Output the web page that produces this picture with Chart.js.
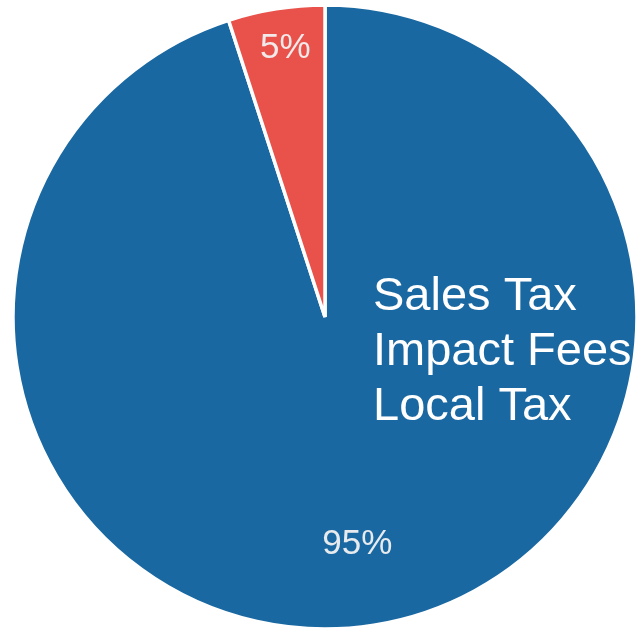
<!DOCTYPE html>
<html>
<head>
<meta charset="utf-8">
<script src="https://cdn.jsdelivr.net/npm/chart.js@4/dist/chart.umd.min.js"></script>
<style>
  html, body { margin: 0; padding: 0; background: #ffffff; }
  #wrap { width: 637px; height: 628px; }
</style>
</head>
<body>
<div id="wrap"><canvas id="chart" width="637" height="628"></canvas></div>
<script>
// Revenue sources and their shares (percent)
const categories = ['Sales Tax', 'Impact Fees', 'Local Tax'];
const shares = [95, 5, 0];
const sliceColors = ['#1a68a1', '#e9514b', '#9aa5ad'];

// Percent labels drawn inside each slice
const sliceLabels = {
  id: 'sliceLabels',
  afterDatasetsDraw(chart, args, opts) {
    const ctx = chart.ctx;
    const meta = chart.getDatasetMeta(0);
    const data = chart.data.datasets[0].data;
    ctx.save();
    ctx.font = opts.font;
    ctx.fillStyle = opts.color;
    ctx.textAlign = 'center';
    ctx.textBaseline = 'middle';
    meta.data.forEach((arc, i) => {
      if (!data[i]) return;
      const p = arc.getProps(['x', 'y', 'startAngle', 'endAngle', 'outerRadius'], true);
      const mid = (p.startAngle + p.endAngle) / 2 + (opts.turn[i] || 0);
      const r = p.outerRadius * (opts.ratios[i] || 0.75);
      ctx.fillText(data[i] + '%', p.x + Math.cos(mid) * r, p.y + Math.sin(mid) * r);
    });
    ctx.restore();
  }
};

// Category names stacked over the pie
const nameList = {
  id: 'nameList',
  afterDraw(chart, args, opts) {
    const ctx = chart.ctx;
    const arc = chart.getDatasetMeta(0).data[0];
    const cx = arc.x, cy = arc.y;
    ctx.save();
    ctx.font = opts.font;
    ctx.fillStyle = opts.color;
    ctx.textAlign = 'left';
    ctx.textBaseline = 'alphabetic';
    chart.data.labels.forEach((name, i) => {
      ctx.fillText(name, cx + opts.dx, cy + opts.dy + i * opts.lineHeight);
    });
    ctx.restore();
  }
};

new Chart(document.getElementById('chart'), {
  type: 'pie',
  data: {
    labels: categories,
    datasets: [{
      data: shares,
      backgroundColor: sliceColors,
      borderColor: '#ffffff',
      borderWidth: 3.5,
      radius: 312
    }]
  },
  options: {
    responsive: false,
    animation: false,
    layout: { padding: { left: 13, right: 0, top: 6, bottom: 0 } },
    plugins: {
      legend: { display: false },
      tooltip: { enabled: false },
      sliceLabels: {
        font: '35px "Liberation Sans", Arial, sans-serif',
        color: 'rgba(242,242,242,0.95)',
        ratios: [0.735, 0.87, 0.8],
        turn: [0.016, 0.01, 0]
      },
      nameList: {
        font: '47px "Liberation Sans", Arial, sans-serif',
        color: '#ffffff',
        dx: 48,
        dy: -7,
        lineHeight: 55
      }
    }
  },
  plugins: [sliceLabels, nameList]
});
</script>
</body>
</html>
